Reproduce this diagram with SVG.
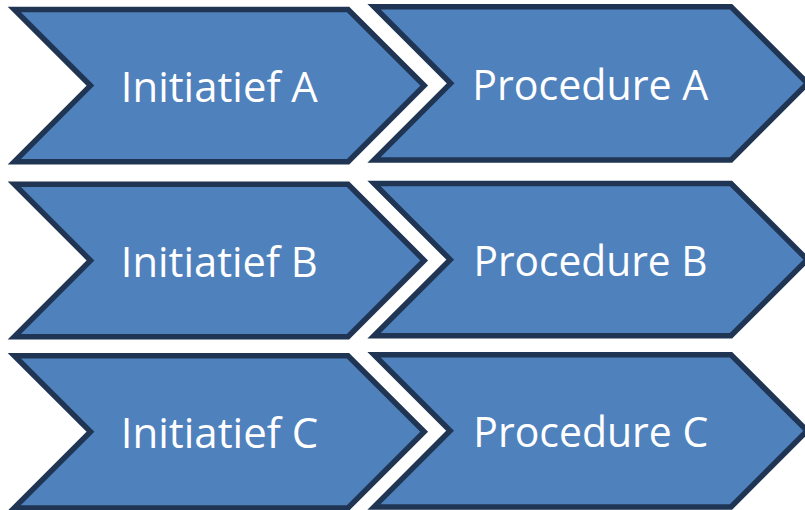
<svg xmlns="http://www.w3.org/2000/svg" width="805" height="510" viewBox="0 0 805 510">
<style>
.shape{fill:#4f81bd;stroke:#1f3553;stroke-width:5.5;stroke-linejoin:miter;stroke-miterlimit:10}
.lbl{fill:#ffffff;font-family:"Open Sans","Noto Sans","Liberation Sans",sans-serif;font-size:42.5px;text-anchor:middle;font-variant-ligatures:none}
</style>
<rect width="805" height="510" fill="#ffffff"/>
<g id="initiatief-a">
<polygon class="shape" points="14.3,9.5 348.1,9.5 424.2,85.6 348.1,161.7 14.3,161.7 90.4,85.6"/>
<text class="lbl" x="219.3" y="101.7" textLength="197" lengthAdjust="spacingAndGlyphs">Initiatief A</text>
</g>
<g id="procedure-a">
<polygon class="shape" points="374,6.7 731,6.7 807.6,83.35 731,160 374,160 450.6,83.35"/>
<text class="lbl" x="590.3" y="100" textLength="236" lengthAdjust="spacingAndGlyphs">Procedure A</text>
</g>
<g id="initiatief-b">
<polygon class="shape" points="14.3,184.2 348,184.2 424.2,260.45 348,336.7 14.3,336.7 90.5,260.45"/>
<text class="lbl" x="219.3" y="276.7" textLength="197" lengthAdjust="spacingAndGlyphs">Initiatief B</text>
</g>
<g id="procedure-b">
<polygon class="shape" points="374,183.5 731,183.5 807.2,259.65 731,335.8 374,335.8 450.2,259.65"/>
<text class="lbl" x="590.5" y="276" textLength="234" lengthAdjust="spacingAndGlyphs">Procedure B</text>
</g>
<g id="initiatief-c">
<polygon class="shape" points="14.3,355.8 348,355.8 424.2,431.7 348,507.9 14.3,507.9 90.5,431.7"/>
<text class="lbl" x="219.5" y="447.7" textLength="197.6" lengthAdjust="spacingAndGlyphs">Initiatief C</text>
</g>
<g id="procedure-c">
<polygon class="shape" points="374,354.8 731,354.8 807.1,430.8 731,506.9 374,506.9 450.1,430.8"/>
<text class="lbl" x="590.8" y="446.7" textLength="235" lengthAdjust="spacingAndGlyphs">Procedure C</text>
</g>
</svg>
